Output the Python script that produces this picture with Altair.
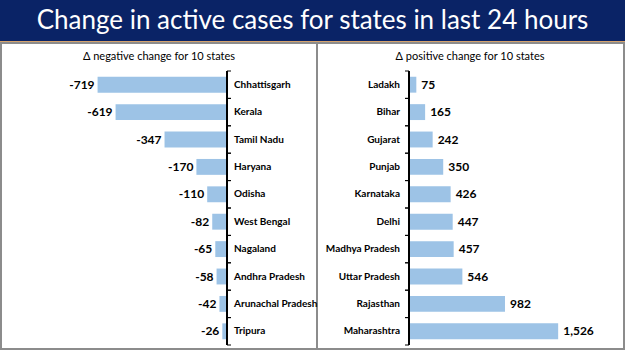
import altair as alt
import pandas as pd

TITLE = "Change in active cases for states in last 24 hours"
SUB_NEG = "Δ negative change for 10 states"
SUB_POS = "Δ positive change for 10 states"

neg_states = ["Chhattisgarh", "Kerala", "Tamil Nadu", "Haryana", "Odisha",
              "West Bengal", "Nagaland", "Andhra Pradesh", "Arunachal Pradesh", "Tripura"]
neg_values = [-719, -619, -347, -170, -110, -82, -65, -58, -42, -26]

pos_states = ["Ladakh", "Bihar", "Gujarat", "Punjab", "Karnataka",
              "Delhi", "Madhya Pradesh", "Uttar Pradesh", "Rajasthan", "Maharashtra"]
pos_values = [75, 165, 242, 350, 426, 447, 457, 546, 982, 1526]

W, H = 625, 351
NAVY = "#0A2366"
BAR = "#9DC3E6"
BORDER = "#8C8C8C"
FONT = "Lato"

neg_df = pd.DataFrame({"state": neg_states, "value": neg_values,
                       "label": [f"{v:,}" for v in neg_values]})
pos_df = pd.DataFrame({"state": pos_states, "value": pos_values,
                       "label": [f"{v:,}" for v in pos_values]})

Y_RANGE = [71, 345]
PI = 0.42
HALF_GAP = (Y_RANGE[1] - Y_RANGE[0]) / 10 * PI / 2


def panel(df, states, xdomain, xrange, side):
    xs = alt.Scale(domain=xdomain, range=xrange, nice=False, zero=False)
    ys = alt.Scale(domain=states, range=Y_RANGE, paddingInner=PI, paddingOuter=PI / 2)
    base = alt.Chart(df)
    y = alt.Y("state:N", scale=ys, axis=None, sort=states)
    bars = base.mark_bar(color=BAR).encode(
        x=alt.X("value:Q", scale=xs, axis=None),
        x2=alt.datum(0),
        y=y,
    )
    if side == "neg":
        vals = base.mark_text(align="right", baseline="middle", dx=-3,
                              font=FONT, fontSize=12, fontWeight="bold", color="#000000")
        names = base.mark_text(align="left", baseline="middle", dx=7,
                               font=FONT, fontSize=10, fontWeight="bold", color="#000000")
        tick_off = 4
    else:
        vals = base.mark_text(align="left", baseline="middle", dx=5,
                              font=FONT, fontSize=12, fontWeight="bold", color="#000000")
        names = base.mark_text(align="right", baseline="middle", dx=-9,
                               font=FONT, fontSize=10, fontWeight="bold", color="#000000")
        tick_off = -4
    vals = vals.encode(x=alt.X("value:Q", scale=xs, axis=None), y=y, text="label:N")
    names = names.encode(x=alt.datum(0), y=y, text="state:N")
    axis_line = base.mark_rule(color="#000000", strokeWidth=1).encode(
        x=alt.datum(0), y=alt.value(Y_RANGE[0]), y2=alt.value(Y_RANGE[1]))
    ticks_top = base.mark_rule(color="#000000", strokeWidth=1, x2Offset=tick_off,
                               yOffset=-HALF_GAP).encode(
        x=alt.datum(0), x2=alt.datum(0),
        y=alt.Y("state:N", scale=ys, axis=None, sort=states, bandPosition=0))
    ticks_bot = base.mark_rule(color="#000000", strokeWidth=1, x2Offset=tick_off,
                               yOffset=HALF_GAP).encode(
        x=alt.datum(0), x2=alt.datum(0),
        y=alt.Y("state:N", scale=ys, axis=None, sort=states, bandPosition=1))
    return alt.layer(bars, vals, names, axis_line, ticks_top, ticks_bot)


left = panel(neg_df, neg_states, [-800, 0], [83, 227], "neg")
right = panel(pos_df, pos_states, [0, 1600], [409, 565.4], "pos")

one = pd.DataFrame({"k": [0]})
deco = alt.Chart(one)
band = deco.mark_rect(color=NAVY).encode(
    x=alt.value(0), x2=alt.value(W), y=alt.value(0), y2=alt.value(41))
orange = deco.mark_rule(color="#C9843C", strokeWidth=1.5).encode(
    x=alt.value(0), x2=alt.value(W), y=alt.value(42))
box_l = deco.mark_rect(fill="white", fillOpacity=0, stroke=BORDER, strokeWidth=2).encode(
    x=alt.value(1), x2=alt.value(317), y=alt.value(43), y2=alt.value(349))
box_r = deco.mark_rect(fill="white", fillOpacity=0, stroke=BORDER, strokeWidth=2).encode(
    x=alt.value(317), x2=alt.value(624), y=alt.value(43), y2=alt.value(349))
title = deco.mark_text(font=FONT, fontSize=26, color="white", align="center",
                       baseline="middle").encode(
    x=alt.value(W / 2), y=alt.value(21), text=alt.value(TITLE))
sub_l = deco.mark_text(font=FONT, fontSize=11, color="#000000", align="center",
                       baseline="middle").encode(
    x=alt.value(159), y=alt.value(57), text=alt.value(SUB_NEG))
sub_r = deco.mark_text(font=FONT, fontSize=11, color="#000000", align="center",
                       baseline="middle").encode(
    x=alt.value(470), y=alt.value(57), text=alt.value(SUB_POS))

decor = alt.layer(band, orange, box_l, box_r, title, sub_l, sub_r)

chart = alt.layer(decor, left, right).resolve_scale(
    x="independent", y="independent"
).properties(
    width=W, height=H, padding=0, autosize=alt.AutoSizeParams(type="none"),
    background="white"
).configure_view(stroke=None)

chart.save("out.html", embed_options={"renderer": "svg", "actions": False})
